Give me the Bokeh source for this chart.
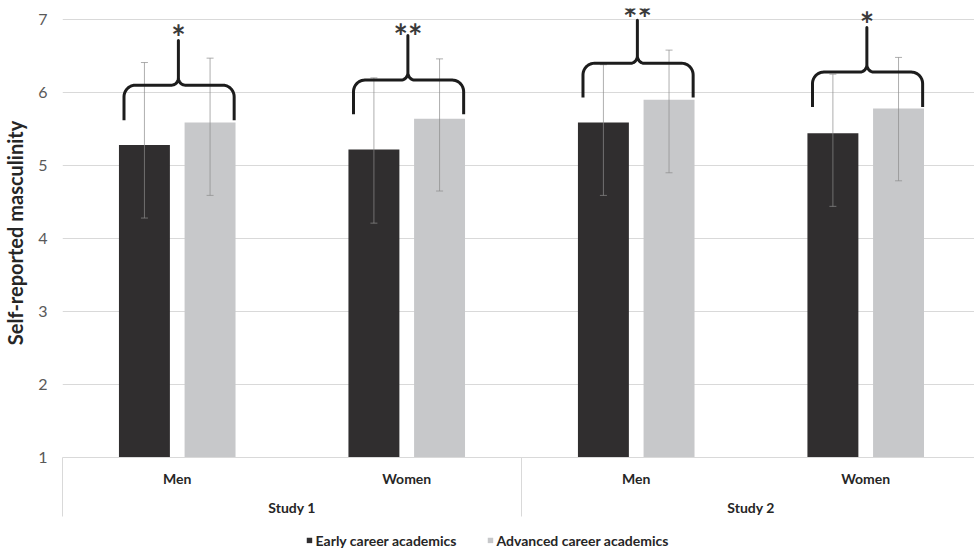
import numpy as np
from bokeh.plotting import figure
from bokeh.layouts import column
from bokeh.models import (Range1d, FixedTicker, LinearAxis, ColumnDataSource,
                          Legend, LegendItem)
from bokeh.core.properties import value
from bokeh.embed import file_html
from bokeh.resources import INLINE

# ---------------- data ----------------
sex_labels = ["Men", "Women", "Men", "Women"]
study_labels = ["Study 1", "Study 2"]
series_names = ["Early career academics", "Advanced career academics"]

early_mean = [5.28, 5.22, 5.59, 5.44]
early_hi = [6.41, 6.20, 6.38, 6.25]
early_lo = [4.28, 4.21, 4.59, 4.44]

adv_mean = [5.59, 5.64, 5.90, 5.78]
adv_hi = [6.47, 6.46, 6.58, 6.48]
adv_lo = [4.59, 4.65, 4.90, 4.79]

# significance braces (levels in y units) and marks
brace_low = [5.62, 5.70, 5.93, 5.80]
brace_mid = [6.10, 6.17, 6.40, 6.28]
brace_top = [6.71, 6.78, 6.99, 6.89]
sig_marks = ["*", "**", "**", "*"]
sig_y = [6.77, 6.78, 7.02, 6.95]

y_ticks = [1, 2, 3, 4, 5, 6, 7]

# ---------------- layout constants ----------------
FONT = "Lato"
DARK = "#302e2f"
LIGHT = "#c7c8ca"
GRID = "#d9d9d9"
TXT = "#262626"
BAR_W = 0.222
OFF = 0.143
SEP_LEN = 59

n = len(sex_labels)
xc = np.arange(n) + 0.5
study_x = [1.0, 3.0]
sep_x = [0.0, 2.0, 4.0]

p = figure(frame_width=912, frame_height=449,
           x_range=Range1d(0, 3.974), y_range=Range1d(1, 7.15),
           output_backend="svg", toolbar_location=None,
           min_border_left=62, min_border_right=0, min_border_top=8,
           min_border_bottom=0)
p.outline_line_color = None
p.xgrid.visible = False

yt = FixedTicker(ticks=y_ticks)
p.yaxis.ticker = yt
p.ygrid.ticker = yt
p.ygrid.grid_line_color = GRID
p.ygrid.grid_line_width = 1
ya = p.yaxis[0]
ya.axis_line_color = None
ya.major_tick_line_color = None
ya.minor_tick_line_color = None
ya.major_label_text_font = FONT
ya.major_label_text_font_size = "16px"
ya.major_label_text_color = "#595959"
ya.major_label_standoff = 9
ya.axis_label = "Self-reported masculinity"
ya.axis_label_text_font = FONT
ya.axis_label_text_font_size = "20px"
ya.axis_label_text_font_style = "bold"
ya.axis_label_text_color = TXT
ya.axis_label_standoff = 8


def style_cat_axis(ax, standoff):
    ax.major_tick_line_color = None
    ax.major_tick_out = 0
    ax.major_tick_in = 0
    ax.minor_tick_line_color = None
    ax.minor_tick_out = 0
    ax.minor_tick_in = 0
    ax.major_label_standoff = standoff
    ax.major_label_text_font = FONT
    ax.major_label_text_font_size = "14px"
    ax.major_label_text_font_style = "bold"
    ax.major_label_text_color = TXT


# first category level (Men / Women); group separators drawn as long
# outward minor ticks, label standoff compensated so labels stay close
xa = p.xaxis[0]
xa.ticker = FixedTicker(ticks=list(xc), minor_ticks=sep_x)
xa.major_label_overrides = {float(x): s for x, s in zip(xc, sex_labels)}
style_cat_axis(xa, 12 - SEP_LEN)
xa.axis_line_color = GRID
xa.minor_tick_line_color = GRID
xa.minor_tick_out = SEP_LEN

# second category level (Study 1 / Study 2)
xa2 = LinearAxis(ticker=FixedTicker(ticks=study_x, minor_ticks=[]))
xa2.major_label_overrides = {float(x): s for x, s in zip(study_x, study_labels)}
style_cat_axis(xa2, 9)
xa2.axis_line_color = None
p.add_layout(xa2, "below")

# bars
src_e = ColumnDataSource(dict(x=xc - OFF, top=early_mean, hi=early_hi, lo=early_lo))
src_a = ColumnDataSource(dict(x=xc + OFF, top=adv_mean, hi=adv_hi, lo=adv_lo))
r_e = p.vbar(x="x", top="top", bottom=1, width=BAR_W, source=src_e,
             fill_color=DARK, line_color=None)
r_a = p.vbar(x="x", top="top", bottom=1, width=BAR_W, source=src_a,
             fill_color=LIGHT, line_color=None)

# error bars
for src in (src_e, src_a):
    p.segment(x0="x", y0="lo", x1="x", y1="hi", source=src,
              line_color="#8c8c8c", line_alpha=0.7, line_width=1)
    p.scatter(x="x", y="hi", source=src, marker="dash", size=7,
              line_color="#8c8c8c", line_alpha=0.7, line_width=1)
    p.scatter(x="x", y="lo", source=src, marker="dash", size=7,
              line_color="#8c8c8c", line_alpha=0.7, line_width=1)

# braces
BL, BR, BP = -0.232, 0.248, 0.005
RX, RY = 0.05, 0.16      # outer corner radii
CX, CY = 0.03, 0.10      # central cusp radii


def arc(cx, cy, rx, ry, a0, a1, k=12):
    t = np.linspace(np.radians(a0), np.radians(a1), k)
    return list(cx + rx * np.cos(t)), list(cy + ry * np.sin(t))


bx, by = [], []
for c, lo, mid, top in zip(xc, brace_low, brace_mid, brace_top):
    left, right, peak = c + BL, c + BR, c + BP
    xs, ys = [left], [lo]
    ax, ay = arc(left + RX, mid - RY, RX, RY, 180, 90)
    xs += ax; ys += ay
    ax, ay = arc(peak - CX, mid + CY, CX, CY, -90, 0)
    xs += ax; ys += ay
    xs += [peak]; ys += [top]
    ax, ay = arc(peak + CX, mid + CY, CX, CY, 180, 270)
    xs += ax; ys += ay
    ax, ay = arc(right - RX, mid - RY, RX, RY, 90, 0)
    xs += ax; ys += ay
    xs += [right]; ys += [lo]
    bx.append(xs); by.append(ys)

p.multi_line(xs=bx, ys=by, line_color="#1c1c1c", line_width=3,
             line_join="round", line_cap="butt")

p.text(x=list(xc + BP), y=sig_y, text=sig_marks, text_font=value(FONT),
       text_font_size="34px", text_font_style="bold", text_align="center",
       text_baseline="alphabetic", text_color="#3a3a3a")

# ---------------- legend strip (own small figure under the chart) ----------------
pl = figure(frame_width=942, frame_height=44,
            x_range=Range1d(0, 1), y_range=Range1d(0, 1),
            output_backend="svg", toolbar_location=None,
            x_axis_location=None, y_axis_location=None,
            min_border_left=32, min_border_right=0, min_border_top=0,
            min_border_bottom=0)
pl.outline_line_color = None
pl.xgrid.visible = False
pl.ygrid.visible = False
# legend swatches: same styles as the bars (placed outside the strip's view)
lg_e = pl.vbar(x=[5], top=[1], bottom=0, width=0.1, fill_color=DARK, line_color=None)
lg_a = pl.vbar(x=[5], top=[1], bottom=0, width=0.1, fill_color=LIGHT, line_color=None)

legend = Legend(items=[LegendItem(label=series_names[0], renderers=[lg_e]),
                       LegendItem(label=series_names[1], renderers=[lg_a])],
                orientation="horizontal", location="center",
                glyph_width=7, glyph_height=7, label_standoff=3, spacing=30,
                padding=0, margin=0, border_line_color=None,
                background_fill_alpha=0,
                label_text_font=FONT, label_text_font_size="14px",
                label_text_font_style="bold", label_text_color=TXT)
pl.add_layout(legend, "center")

layout = column(p, pl, spacing=0)
open("out.html", "w").write(file_html(layout, INLINE))
